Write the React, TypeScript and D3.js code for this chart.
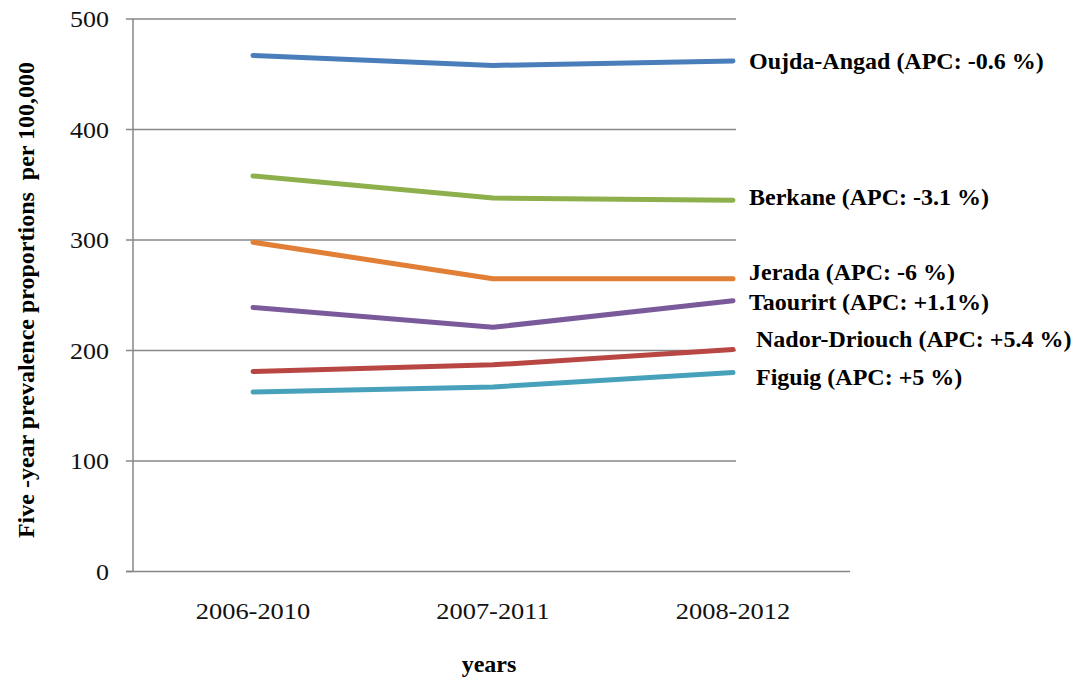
import React from "react";
import * as d3 from "d3";

const categories = ["2006-2010", "2007-2011", "2008-2012"];
const seriesNames = ["Oujda-Angad", "Berkane", "Jerada", "Taourirt", "Nador-Driouch", "Figuig"];
const oujda = [467, 458, 462];
const berkane = [358, 338, 336];
const jerada = [298, 265, 265];
const taourirt = [239, 221, 245];
const nador = [181, 187, 201];
const figuig = [162.5, 167, 180];
const labels = [
  "Oujda-Angad (APC: -0.6 %)",
  "Berkane (APC: -3.1 %)",
  "Jerada (APC: -6 %)",
  "Taourirt (APC: +1.1%)",
  "Nador-Driouch (APC: +5.4 %)",
  "Figuig (APC: +5 %)",
];
const yTicks = [0, 100, 200, 300, 400, 500];

const colors = ["#4A7EBB", "#8DB04C", "#E07F35", "#7A5A9A", "#B84744", "#47A1BA"];
const labelPos = [
  { x: 749, y: 69 },
  { x: 749, y: 205 },
  { x: 749, y: 280 },
  { x: 749, y: 310 },
  { x: 756, y: 347 },
  { x: 756, y: 385 },
];

export default function App() {
  const data = [oujda, berkane, jerada, taourirt, nador, figuig];
  const y = d3.scaleLinear().domain([0, 500]).range([571.5, 19]);
  const x = d3.scalePoint<string>().domain(categories).range([253, 733]);
  const line = d3
    .line<number>()
    .x((_, i) => x(categories[i])!)
    .y((d) => y(d));
  const serif = "'Liberation Serif', 'Times New Roman', serif";
  return (
    <svg width={1071} height={678} style={{ position: "absolute", left: 0, top: 0 }}>
      <rect width={1071} height={678} fill="#fff" />
      {yTicks.map((t) => (
        <g key={t}>
          {t > 0 && (
            <line x1={133} x2={736} y1={y(t)} y2={y(t)} stroke="#878787" strokeWidth={1.5} />
          )}
          <line x1={126} x2={133} y1={y(t)} y2={y(t)} stroke="#878787" strokeWidth={1.5} />
          <text
            transform={`translate(109,${y(t) + 8}) scale(1.13,1)`}
            textAnchor="end"
            fontFamily={serif}
            fontSize={23}
            fill="#111"
          >
            {t}
          </text>
        </g>
      ))}
      <line x1={133} x2={133} y1={y(500)} y2={y(0)} stroke="#878787" strokeWidth={1.5} />
      <line x1={126} x2={850} y1={y(0)} y2={y(0)} stroke="#878787" strokeWidth={1.5} />
      {categories.map((c) => (
        <text
          key={c}
          transform={`translate(${x(c)},619) scale(1.15,1)`}
          textAnchor="middle"
          fontFamily={serif}
          fontSize={23}
          fill="#111"
        >
          {c}
        </text>
      ))}
      {data.map((d, i) => (
        <path
          key={seriesNames[i]}
          d={line(d)!}
          fill="none"
          stroke={colors[i]}
          strokeWidth={5}
          strokeLinecap="round"
          strokeLinejoin="round"
        />
      ))}
      {labels.map((l, i) => (
        <text
          key={l}
          x={labelPos[i].x}
          y={labelPos[i].y}
          fontFamily={serif}
          fontWeight="bold"
          fontSize={24}
          fill="#000"
        >
          {l}
        </text>
      ))}
      <text
        transform="translate(34,300) rotate(-90)"
        textAnchor="middle"
        fontFamily={serif}
        fontWeight="bold"
        fontSize={24}
        fill="#000"
        style={{ whiteSpace: "pre" }}
      >
        {"Five -year prevalence proportions  per 100,000"}
      </text>
      <text x={489} y={672} textAnchor="middle" fontFamily={serif} fontWeight="bold" fontSize={24} fill="#000">
        years
      </text>
    </svg>
  );
}
